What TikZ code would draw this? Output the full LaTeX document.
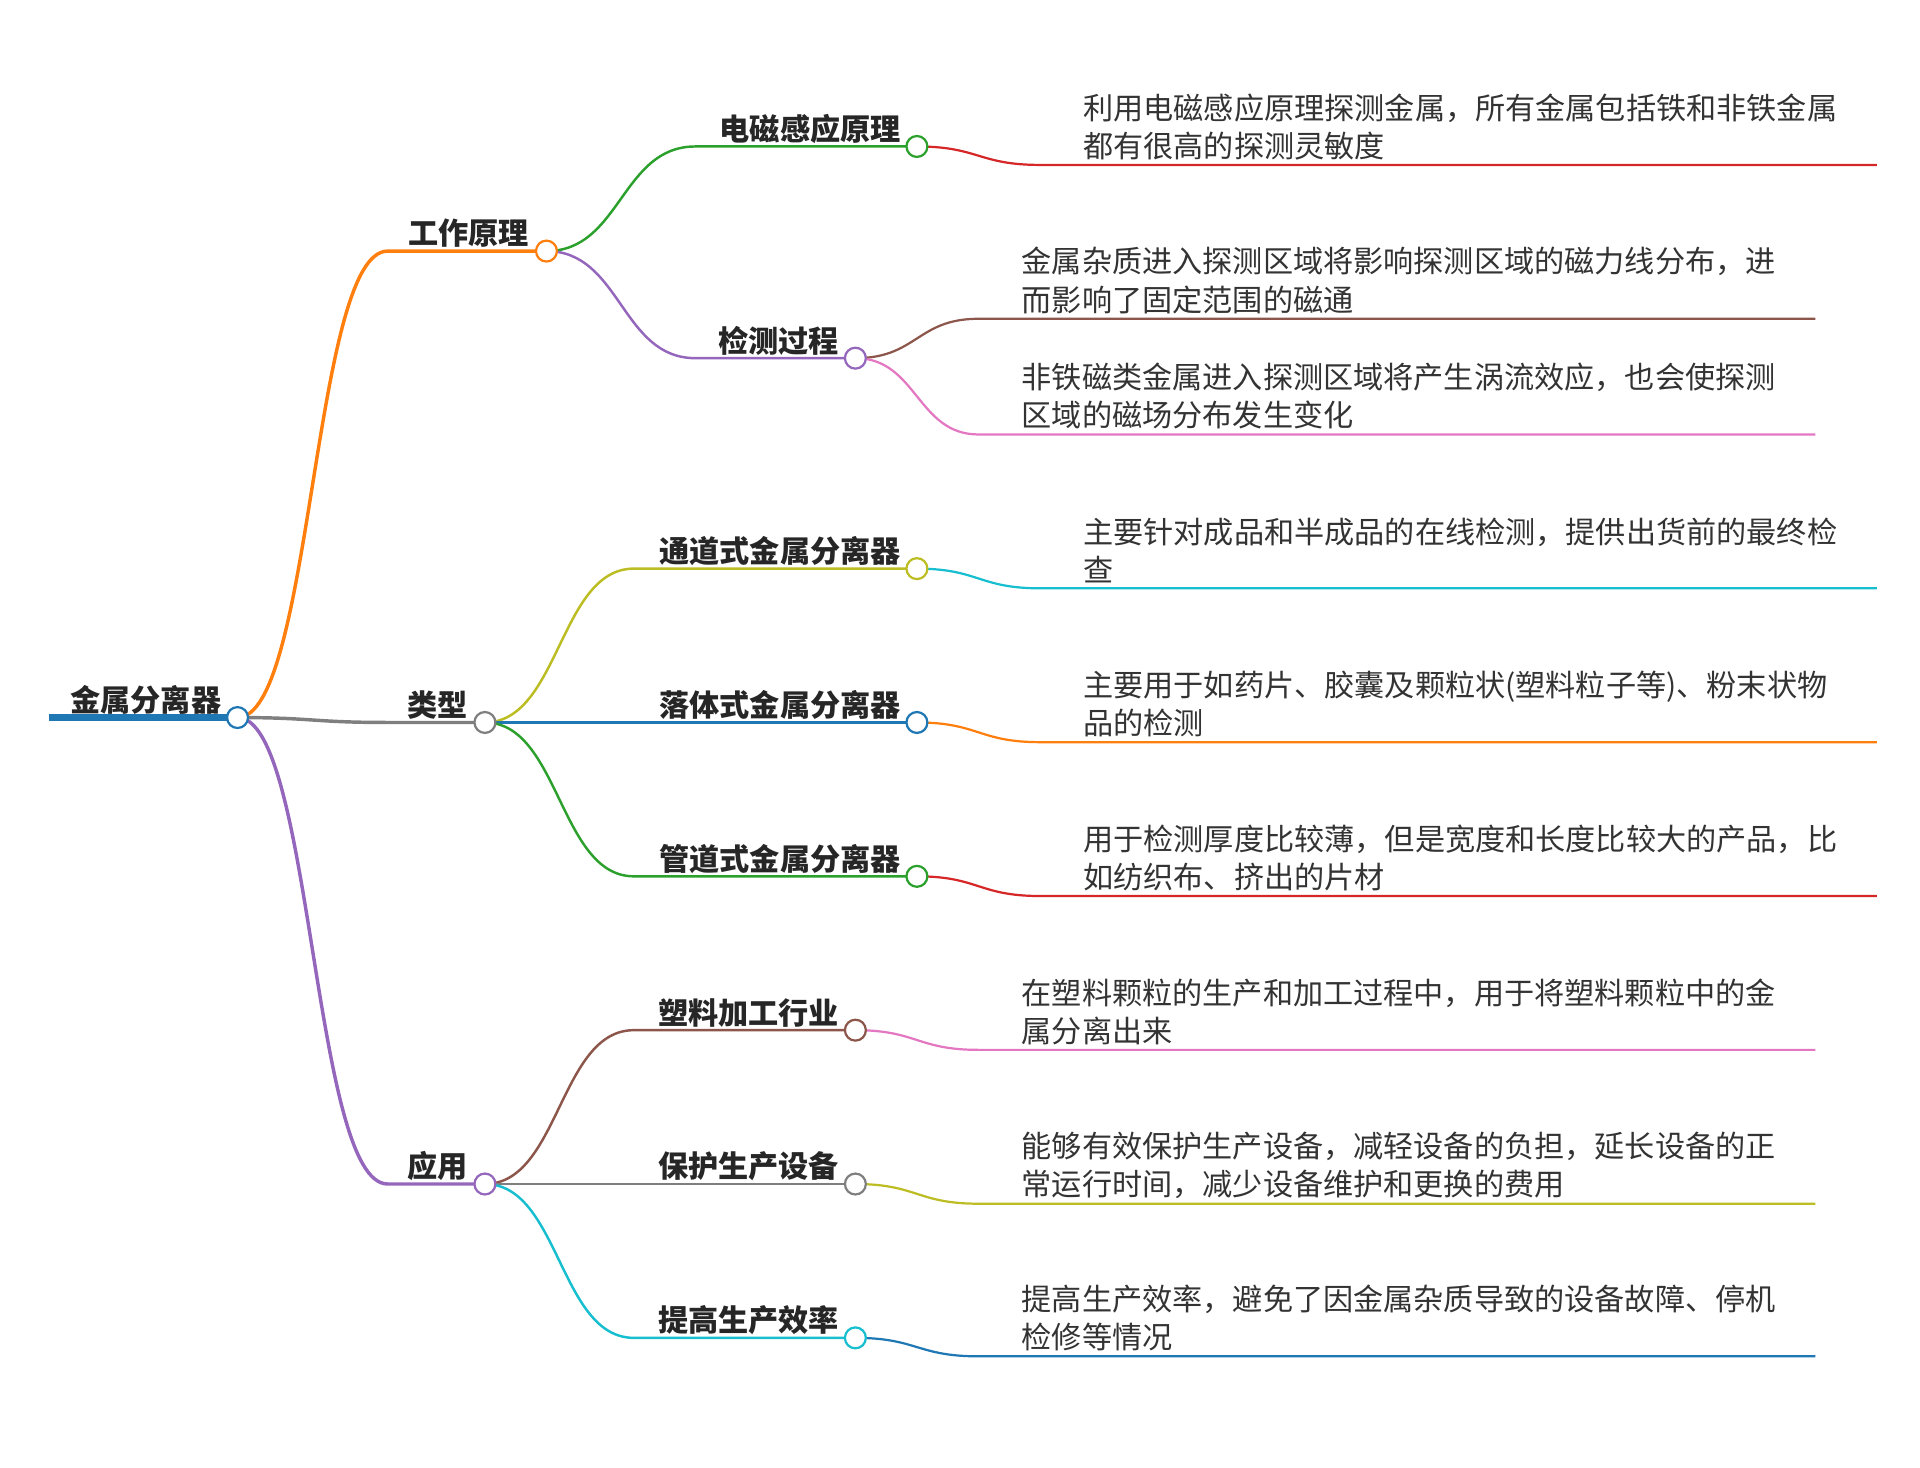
\documentclass[tikz,border=0pt]{standalone}
\usepackage{fontspec}
\setmainfont{Noto Sans CJK SC}
\begin{document}
\begin{tikzpicture}[x=1pt,y=-1pt,
  dot/.style={circle,draw,fill=white,line width=1.8pt,minimum size=17pt,inner sep=0pt},
  ttl/.style={font=\fontsize{24.5}{28}\selectfont\bfseries,anchor=base east,inner sep=0pt,text=black!85},
  leaf/.style={font=\fontsize{24.5}{31}\selectfont,anchor=south west,align=left,inner sep=0pt,text=black!80}]
\definecolor{cO}{HTML}{FF7F0E}\definecolor{cG}{HTML}{2CA02C}\definecolor{cP}{HTML}{9467BD}
\definecolor{cBr}{HTML}{8C564B}\definecolor{cPk}{HTML}{E377C2}\definecolor{cGy}{HTML}{7F7F7F}
\definecolor{cOl}{HTML}{BCBD22}\definecolor{cC}{HTML}{17BECF}\definecolor{cB}{HTML}{1F77B4}\definecolor{cR}{HTML}{D62728}
\useasboundingbox (0,0) rectangle (1560,1192);
% root
\draw[cB,line width=5pt] (40,583) -- (193,583);
\node[ttl] at (180,578) {金属分离器};
% level1 : name, x, y, color
\newcommand{\lvlA}[5]{%
  \draw[#4,line width=2.8pt] (193,583) .. controls (254,583) and (254,#3) .. (315,#3) -- (#2,#3);
  \node[ttl] at (#2-14,#3-5) {#5};}
\lvlA{a}{444}{204}{cO}{工作原理}
\lvlA{b}{394}{587}{cGy}{类型}
\lvlA{c}{394}{962}{cP}{应用}
% level2: px,py,x,y,color,startx,text
\newcommand{\lvlB}[7]{%
  \draw[#5,line width=2pt] (#1,#2) .. controls ({(#1+#6)/2},#2) and ({(#1+#6)/2},#4) .. (#6,#4) -- (#3,#4);
  \node[ttl] at (#3-13,#4-5) {#7};}
\lvlB{444}{204}{745}{119}{cG}{565}{电磁感应原理}
\lvlB{444}{204}{695}{291}{cP}{565}{检测过程}
\lvlB{394}{587}{745}{462}{cOl}{515}{通道式金属分离器}
\lvlB{394}{587}{745}{587}{cB}{515}{落体式金属分离器}
\lvlB{394}{587}{745}{712}{cG}{515}{管道式金属分离器}
\lvlB{394}{962}{695}{837}{cBr}{515}{塑料加工行业}
\lvlB{394}{962}{695}{962}{cGy}{515}{保护生产设备}
\lvlB{394}{962}{695}{1087}{cC}{515}{提高生产效率}
% leaves: px,py,y,color,textx,endx,text
\newcommand{\leafL}[7]{%
  \draw[#4,line width=1.8pt] (#1,#2) .. controls ({#1+50},#2) and ({#1+50},#3) .. ({#1+100},#3) -- (#6,#3);
  \node[leaf] at (#5,#3-4) {#7};}
\leafL{745}{119}{134}{cR}{880}{1525}{利用电磁感应原理探测金属，所有金属包括铁和非铁金属\\都有很高的探测灵敏度}
\leafL{695}{291}{259}{cBr}{830}{1475}{金属杂质进入探测区域将影响探测区域的磁力线分布，进\\而影响了固定范围的磁通}
\leafL{695}{291}{353}{cPk}{830}{1475}{非铁磁类金属进入探测区域将产生涡流效应，也会使探测\\区域的磁场分布发生变化}
\leafL{745}{462}{478}{cC}{880}{1525}{主要针对成品和半成品的在线检测，提供出货前的最终检\\查}
\leafL{745}{587}{603}{cO}{880}{1525}{主要用于如药片、胶囊及颗粒状(塑料粒子等)、粉末状物\\品的检测}
\leafL{745}{712}{728}{cR}{880}{1525}{用于检测厚度比较薄，但是宽度和长度比较大的产品，比\\如纺织布、挤出的片材}
\leafL{695}{837}{853}{cPk}{830}{1475}{在塑料颗粒的生产和加工过程中，用于将塑料颗粒中的金\\属分离出来}
\leafL{695}{962}{978}{cOl}{830}{1475}{能够有效保护生产设备，减轻设备的负担，延长设备的正\\常运行时间，减少设备维护和更换的费用}
\leafL{695}{1087}{1102}{cB}{830}{1475}{提高生产效率，避免了因金属杂质导致的设备故障、停机\\检修等情况}
% dots
\node[dot,draw=cB] (root) at (193,583) {};
\node[dot,draw=cO] (a) at (444,204) {};
\node[dot,draw=cGy] (b) at (394,587) {};
\node[dot,draw=cP] (c) at (394,962) {};
\node[dot,draw=cG] (a1) at (745,119) {};
\node[dot,draw=cP] (a2) at (695,291) {};
\node[dot,draw=cOl] (b1) at (745,462) {};
\node[dot,draw=cB] (b2) at (745,587) {};
\node[dot,draw=cG] (b3) at (745,712) {};
\node[dot,draw=cBr] (c1) at (695,837) {};
\node[dot,draw=cGy] (c2) at (695,962) {};
\node[dot,draw=cC] (c3) at (695,1087) {};
\end{tikzpicture}
\end{document}
